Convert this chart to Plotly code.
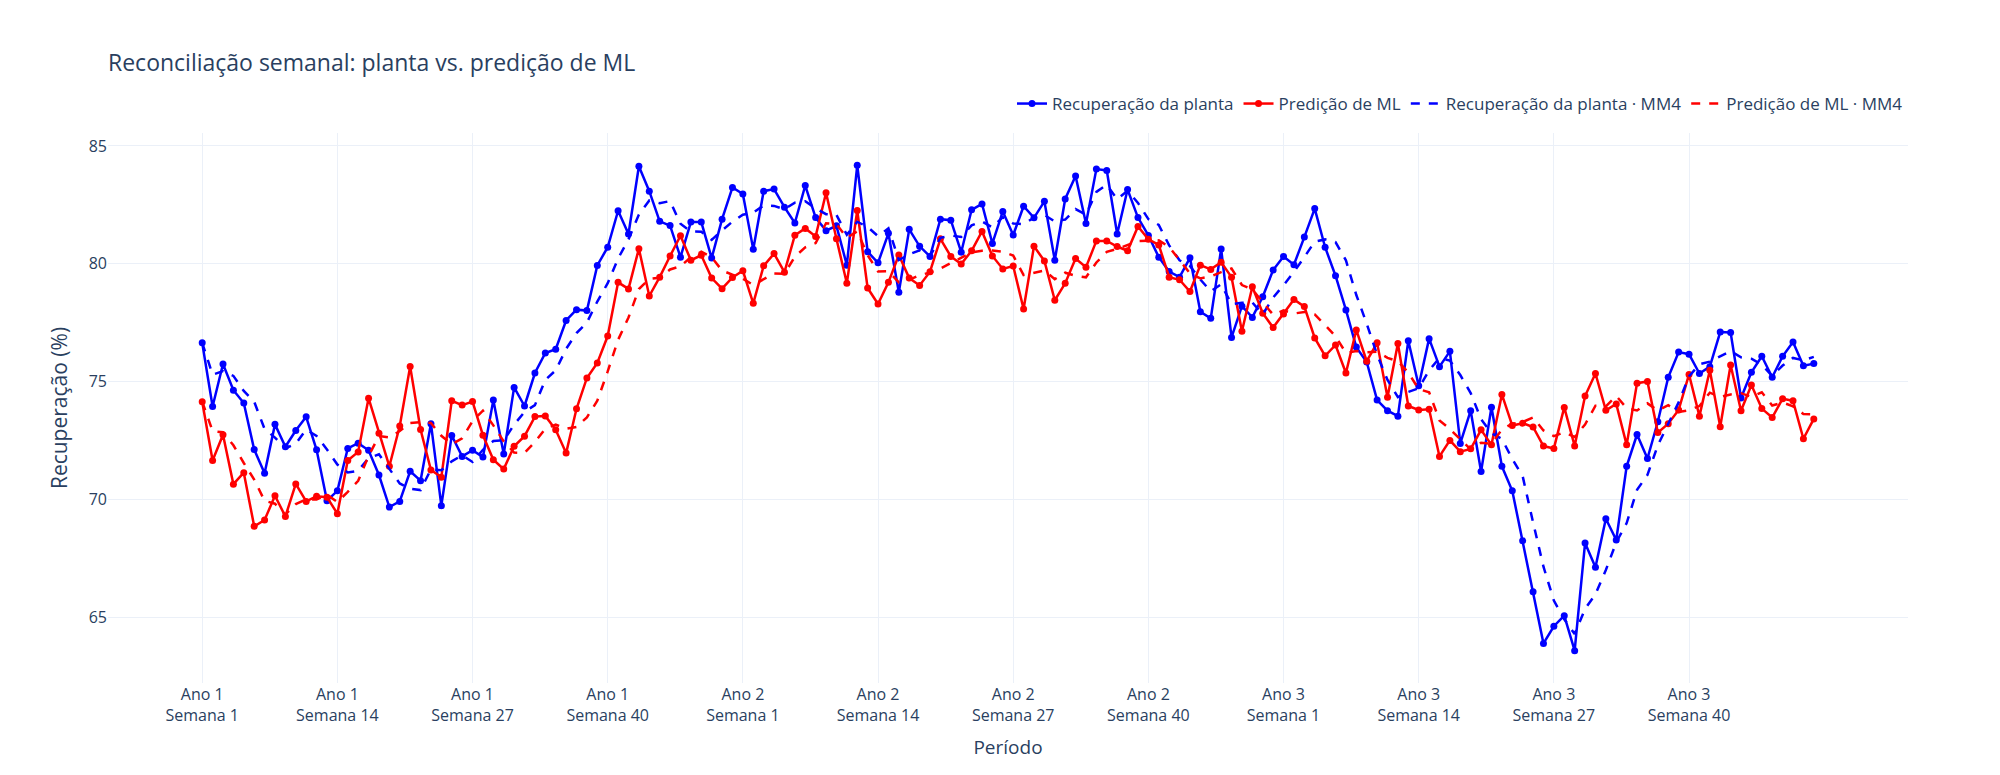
import plotly.graph_objects as go
import pandas as pd

years = [1, 2, 3]
weeks = list(range(1, 53))
categories = [f"Ano {y}<br>Semana {w}" for y in years for w in weeks]

planta = [
    76.64, 73.94, 75.74, 74.63, 74.09, 72.11, 71.10, 73.18, 72.23, 72.92, 73.50, 72.10, 69.94, 70.36, 72.16, 72.38, 72.08, 71.03, 69.67, 69.91,
    71.19, 70.79, 73.21, 69.73, 72.71, 71.82, 72.08, 71.79, 74.21, 71.92, 74.75, 73.96, 75.36, 76.21, 76.37, 77.59, 78.05, 78.01, 79.93, 80.70, 82.25,
    81.26, 84.14, 83.08, 81.80, 81.62, 80.28, 81.77, 81.77, 80.24, 81.89, 83.24, 82.96, 80.61, 83.08, 83.17, 82.40, 81.73, 83.32, 81.96, 81.40,
    81.61, 79.94, 84.18, 80.51, 80.04, 81.29, 78.79, 81.46, 80.74, 80.31, 81.89, 81.85, 80.49, 82.29, 82.54, 80.86, 82.22, 81.22, 82.44, 81.95,
    82.65, 80.15, 82.75, 83.72, 81.71, 84.02, 83.96, 81.26, 83.15, 81.96, 81.20, 80.28, 79.67, 79.43, 80.25, 77.96, 77.68, 80.63, 76.87, 78.20,
    77.72, 78.60, 79.73, 80.31, 79.96, 81.13, 82.34, 80.70, 79.49, 78.04, 76.46, 75.83, 74.21, 73.76, 73.53, 76.73, 74.82, 76.82, 75.63, 76.28,
    72.37, 73.76, 71.18, 73.91, 71.40, 70.36, 68.24, 66.07, 63.88, 64.61, 65.06, 63.57, 68.14, 67.11, 69.17, 68.27, 71.40, 72.75, 71.73, 73.29, 75.18,
    76.25, 76.16, 75.34, 75.63, 77.10, 77.08, 74.30, 75.39, 76.07, 75.18, 76.07, 76.68, 75.67, 75.76,
]

predicao = [
    74.14, 71.65, 72.74, 70.64, 71.13, 68.85, 69.12, 70.15, 69.27, 70.65, 69.91, 70.13, 70.09, 69.39, 71.65, 72.01, 74.29, 72.80, 71.40, 73.11,
    75.64, 72.96, 71.24, 70.94, 74.18, 74.00, 74.15, 72.72, 71.68, 71.28, 72.25, 72.68, 73.51, 73.54, 72.95, 71.96, 73.84, 75.15, 75.79, 76.93, 79.21,
    78.93, 80.64, 78.63, 79.43, 80.33, 81.19, 80.15, 80.36, 79.39, 78.94, 79.42, 79.70, 78.32, 79.91, 80.43, 79.64, 81.21, 81.50, 81.16, 83.01,
    81.06, 79.17, 82.26, 78.97, 78.29, 79.21, 80.37, 79.39, 79.08, 79.66, 81.06, 80.31, 79.99, 80.55, 81.37, 80.33, 79.78, 79.90, 78.08, 80.74,
    80.12, 78.45, 79.17, 80.22, 79.85, 80.97, 80.97, 80.73, 80.55, 81.58, 81.04, 80.80, 79.43, 79.32, 78.82, 79.94, 79.76, 80.06, 79.43, 77.13,
    79.02, 77.90, 77.29, 77.87, 78.48, 78.18, 76.85, 76.09, 76.55, 75.36, 77.19, 75.86, 76.64, 74.33, 76.61, 73.96, 73.79, 73.82, 71.82, 72.50,
    72.02, 72.14, 72.95, 72.31, 74.45, 73.13, 73.23, 73.07, 72.26, 72.16, 73.90, 72.26, 74.38, 75.34, 73.78, 74.05, 72.31, 74.93, 75.00, 72.83, 73.21,
    73.79, 75.30, 73.53, 75.48, 73.08, 75.70, 73.76, 74.85, 73.85, 73.47, 74.27, 74.18, 72.57, 73.41,
]

tick_labels = categories[::13]

mm_planta = pd.Series(planta).rolling(4, min_periods=1).mean().tolist()
mm_predicao = pd.Series(predicao).rolling(4, min_periods=1).mean().tolist()

fig = go.Figure()
fig.add_trace(go.Scatter(x=categories, y=planta, mode="lines+markers",
                         name="Recuperação da planta",
                         line=dict(color="blue", width=2.5), marker=dict(size=7)))
fig.add_trace(go.Scatter(x=categories, y=predicao, mode="lines+markers",
                         name="Predição de ML",
                         line=dict(color="red", width=2.5), marker=dict(size=7)))
fig.add_trace(go.Scatter(x=categories, y=mm_planta, mode="lines",
                         name="Recuperação da planta · MM4",
                         line=dict(color="blue", width=2.5, dash="dash")))
fig.add_trace(go.Scatter(x=categories, y=mm_predicao, mode="lines",
                         name="Predição de ML · MM4",
                         line=dict(color="red", width=2.5, dash="dash")))

fig.update_layout(
    template="plotly_white",
    width=2000, height=775,
    margin=dict(l=100, r=100, t=125, b=100),
    title=dict(text="Reconciliação semanal: planta vs. predição de ML",
               x=0.05, xanchor="left", y=1 - 55 / 775, yanchor="middle",
               font=dict(size=23)),
    font=dict(size=16),
    legend=dict(orientation="h", x=1, xanchor="right", y=1.02, yanchor="bottom",
                font=dict(size=17)),
    xaxis=dict(title=dict(text="Período", font=dict(size=19)), type="category",
               tickmode="array", tickvals=tick_labels, ticktext=tick_labels,
               range=[-9.06, 164.06]),
    yaxis=dict(title=dict(text="Recuperação (%)", font=dict(size=21)),
               range=[62.2, 85.55]),
)

fig.write_html("out.html")
